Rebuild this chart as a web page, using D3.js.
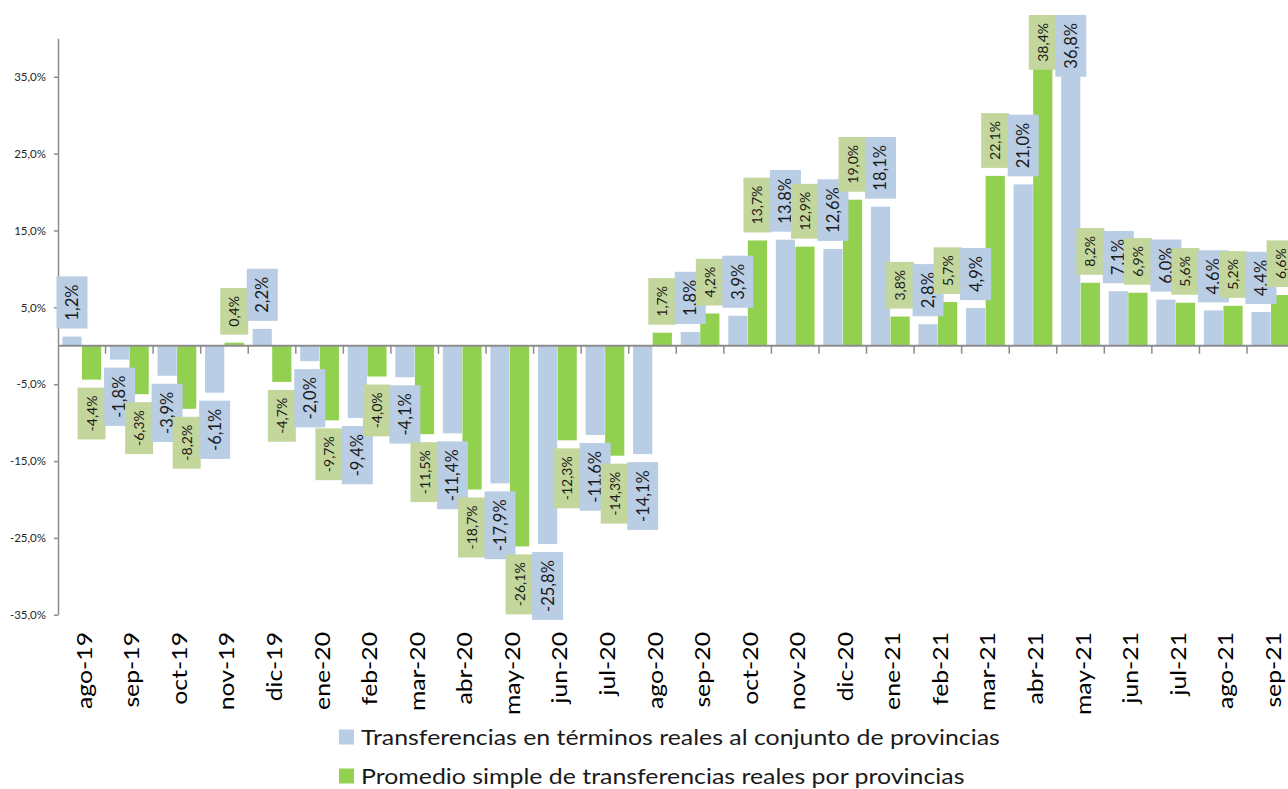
<!DOCTYPE html>
<html>
<head>
<meta charset="utf-8">
<script src="https://cdn.jsdelivr.net/npm/d3@7"></script>
<style>
  body { margin: 0; background: #fff; }
  svg { display: block; font-family: Lato, "Open Sans", sans-serif; }
</style>
</head>
<body>
<div id="chart"></div>
<script>
// Categories (months) and the two series
var months = ["ago-19", "sep-19", "oct-19", "nov-19", "dic-19", "ene-20", "feb-20", "mar-20",
    "abr-20", "may-20", "jun-20", "jul-20", "ago-20", "sep-20", "oct-20", "nov-20", "dic-20",
    "ene-21", "feb-21", "mar-21", "abr-21", "may-21", "jun-21", "jul-21", "ago-21", "sep-21"];

var totalReal = [1.2, -1.8, -3.9, -6.1, 2.2, -2.0, -9.4, -4.1, -11.4, -17.9, -25.8, -11.6,
    -14.1, 1.8, 3.9, 13.8, 12.6, 18.1, 2.8, 4.9, 21.0, 36.8, 7.1, 6.0, 4.6, 4.4];

var promedioProv = [-4.4, -6.3, -8.2, 0.4, -4.7, -9.7, -4.0, -11.5, -18.7, -26.1, -12.3, -14.3,
    1.7, 4.2, 13.7, 12.9, 19.0, 3.8, 5.7, 22.1, 38.4, 8.2, 6.9, 5.6, 5.2, 6.6];

var seriesNames = ["Transferencias en términos reales al conjunto de provincias",
    "Promedio simple de transferencias reales por provincias"];

var yTicks = [-35, -25, -15, -5, 5, 15, 25, 35];

// Sizes
var svgWidth = 1288;
var svgHeight = 789;
var axisLeftX = 58;
var bandW = 47.56;

var barColors = ["#b9cde5", "#92d050"];
var boxColors = ["#b9cde5", "#c3d69b"];

var esLocale = d3.formatLocale({decimal: ",", thousands: ".", grouping: [3], currency: ["$", ""], minus: "-"});
var fmt = esLocale.format(".1f");

var svg = d3.select("#chart")
    .append("svg")
    .attr("width", svgWidth)
    .attr("height", svgHeight);

var yScale = d3.scaleLinear()
    .domain([-35, 40])
    .range([614.8, 38.3]);

var xScale = d3.scaleBand()
    .domain(months)
    .range([axisLeftX, axisLeftX + bandW * months.length])
    .padding(0);

var xInner = d3.scaleBand()
    .domain([0, 1])
    .range([4, bandW - 4])
    .padding(0.02);

var rows = months.map(function(m, i) {
    return {month: m, values: [totalReal[i], promedioProv[i]]};
});

// Bars
var barsGroup = svg.append("g");
[0, 1].forEach(function(s) {
    barsGroup.selectAll("rect.s" + s)
        .data(rows)
        .enter()
        .append("rect")
        .attr("class", "s" + s)
        .attr("x", d => xScale(d.month) + xInner(s))
        .attr("width", xInner.bandwidth())
        .attr("y", d => yScale(Math.max(0, d.values[s])))
        .attr("height", d => Math.abs(yScale(d.values[s]) - yScale(0)))
        .attr("fill", barColors[s]);
});

// Y axis
var leftAxis = d3.axisLeft(yScale)
    .tickValues(yTicks)
    .tickSize(4)
    .tickSizeOuter(0)
    .tickFormat(d => fmt(d) + "%");

var yAxisG = svg.append("g")
    .attr("transform", `translate(${axisLeftX}, 0)`)
    .call(leftAxis);
yAxisG.select(".domain").attr("stroke", "#8c8c8c").attr("stroke-width", 1.5);
yAxisG.selectAll(".tick line").attr("stroke", "#8c8c8c").attr("stroke-width", 1.5);
yAxisG.selectAll(".tick text")
    .attr("x", -12)
    .attr("fill", "#262626")
    .attr("font-size", "11.5px")
    .attr("font-family", "Lato, sans-serif");

// zero line with category boundary ticks
var y0 = yScale(0);
svg.append("line")
    .attr("x1", axisLeftX)
    .attr("x2", svgWidth)
    .attr("y1", y0)
    .attr("y2", y0)
    .attr("stroke", "#8c8c8c")
    .attr("stroke-width", 2);

svg.append("g").selectAll("line")
    .data(months.slice(1))
    .enter()
    .append("line")
    .attr("x1", d => xScale(d))
    .attr("x2", d => xScale(d))
    .attr("y1", y0)
    .attr("y2", y0 + 8)
    .attr("stroke", "#8c8c8c")
    .attr("stroke-width", 1.5);

// Month labels (stretched like the original)
svg.append("g").selectAll("text")
    .data(months)
    .enter()
    .append("text")
    .attr("transform", d => `translate(${xScale(d) + bandW / 2 + 10}, 632) rotate(-90) scale(1.18, 1)`)
    .attr("text-anchor", "end")
    .attr("font-size", "21px")
    .attr("fill", "#000")
    .text(d => d);

// Data labels: boxes with rotated text, drawn per month, blue then green
var labelsGroup = svg.append("g");
var boxW = [31, 28];
var fontSz = [16.5, 14];
var gap = 8;
var pad = 8;
var topLimit = 15;

rows.forEach(function(row) {
    [0, 1].forEach(function(s) {
        var v = row.values[s];
        var cx = xScale(row.month) + xInner(s) + xInner.bandwidth() / 2;
        var g = labelsGroup.append("g");
        var rect = g.append("rect")
            .attr("fill", boxColors[s]);
        var txt = g.append("text")
            .attr("font-size", fontSz[s] + "px")
            .attr("fill", "#1a1a1a")
            .attr("text-anchor", "middle")
            .text(fmt(v) + "%");
        var len = txt.node().getComputedTextLength();
        var h = len + pad * 2;
        var top;
        if (v >= 0) {
            top = Math.max(topLimit, yScale(v) - gap - h);
        } else {
            top = yScale(v) + gap;
        }
        rect.attr("x", cx - boxW[s] / 2)
            .attr("y", top)
            .attr("width", boxW[s])
            .attr("height", h);
        txt.attr("transform", `translate(${cx + fontSz[s] * 0.36}, ${top + h / 2}) rotate(-90)`);
    });
});

// Legend
var legend = svg.append("g");
var legendY = [737, 776];
seriesNames.forEach(function(name, i) {
    legend.append("rect")
        .attr("x", 339)
        .attr("y", legendY[i] - 7.5)
        .attr("width", 15)
        .attr("height", 15)
        .attr("fill", barColors[i]);
    legend.append("text")
        .attr("transform", `translate(361, ${legendY[i] + 7.5}) scale(1.185, 1)`)
        .attr("font-size", "21px")
        .attr("fill", "#1a1a1a")
        .text(name);
});
</script>
</body>
</html>
